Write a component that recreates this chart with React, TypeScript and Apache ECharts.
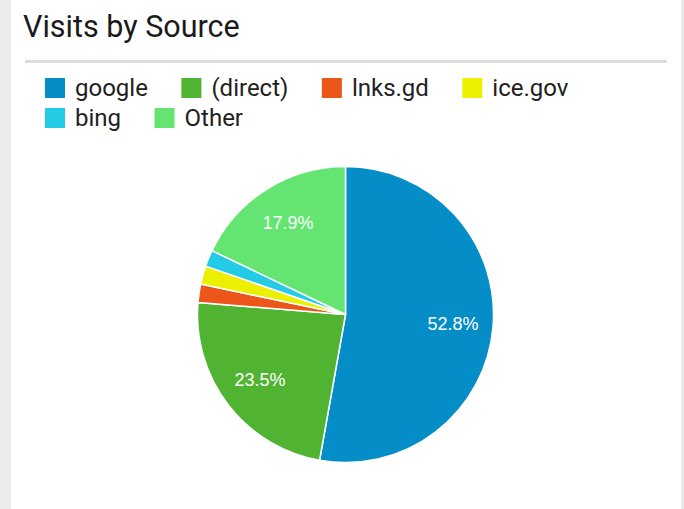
import React, { useEffect, useRef } from "react";
import * as echarts from "echarts";

const categories = ["google", "(direct)", "lnks.gd", "ice.gov", "bing", "Other"];
const values = [52.8, 23.5, 2.0, 2.0, 1.8, 17.9];
const colors = ["#058dc7", "#50b432", "#ed561b", "#edef00", "#24cbe5", "#64e572"];
const legendRow1 = categories.slice(0, 4);
const legendRow2 = categories.slice(4);
const titleText = "Visits by Source";

export default function App() {
  const ref = useRef<HTMLDivElement>(null);
  useEffect(() => {
    if (!ref.current) return;
    const chart = echarts.init(ref.current, null, { renderer: "svg" });
    const data = categories.map((name, i) => ({
      name,
      value: values[i],
      itemStyle: { color: colors[i] },
    }));
    const legendCommon = {
      orient: "horizontal",
      left: 45,
      padding: 0,
      itemWidth: 20,
      itemHeight: 20,
      itemGap: 33.5,
      icon: "rect",
      selectedMode: false,
      itemStyle: { borderWidth: 0 },
      textStyle: { fontFamily: "Roboto", fontSize: 24, color: "#212121", padding: [0, 0, 0, 5] },
    };
    chart.setOption({
      animation: false,
      backgroundColor: "#ebebeb",
      graphic: [
        { type: "rect", shape: { x: 11, y: 0, width: 670, height: 509 }, style: { fill: "#ffffff" }, z: -10, silent: true },
        { type: "rect", shape: { x: 25, y: 60, width: 642, height: 3 }, style: { fill: "#dcdcdc" }, silent: true },
        {
          type: "text",
          x: 23,
          y: 11,
          style: { text: titleText, font: "30.5px Roboto", fill: "#1a1a1a" },
          silent: true,
        },
      ],
      legend: [
        { ...legendCommon, top: 76, data: legendRow1 },
        { ...legendCommon, top: 106, data: legendRow2 },
      ],
      series: [
        {
          type: "pie",
          center: [345.5, 314.5],
          radius: [0, 148],
          startAngle: 90,
          clockwise: true,
          avoidLabelOverlap: false,
          silent: true,
          itemStyle: { borderColor: "#ffffff", borderWidth: 1.5 },
          label: { show: false },
          labelLine: { show: false },
          data,
        },
        {
          type: "pie",
          center: [345.5, 314.5],
          radius: [62, 148],
          startAngle: 90,
          clockwise: true,
          avoidLabelOverlap: false,
          silent: true,
          legendHoverLink: false,
          itemStyle: { color: "rgba(0,0,0,0)", borderWidth: 0 },
          label: {
            show: true,
            position: "inside",
            fontFamily: "Liberation Sans",
            fontSize: 18,
            color: "#ffffff",
            formatter: (p: any) => (p.value >= 5 ? p.value.toFixed(1) + "%" : ""),
          },
          labelLine: { show: false },
          data: categories.map((name, i) => ({ name, value: values[i] })),
        },
      ],
    });
    return () => chart.dispose();
  }, []);
  return (
    <div
      ref={ref}
      style={{ position: "absolute", left: 0, top: 0, width: 684, height: 509 }}
    />
  );
}
